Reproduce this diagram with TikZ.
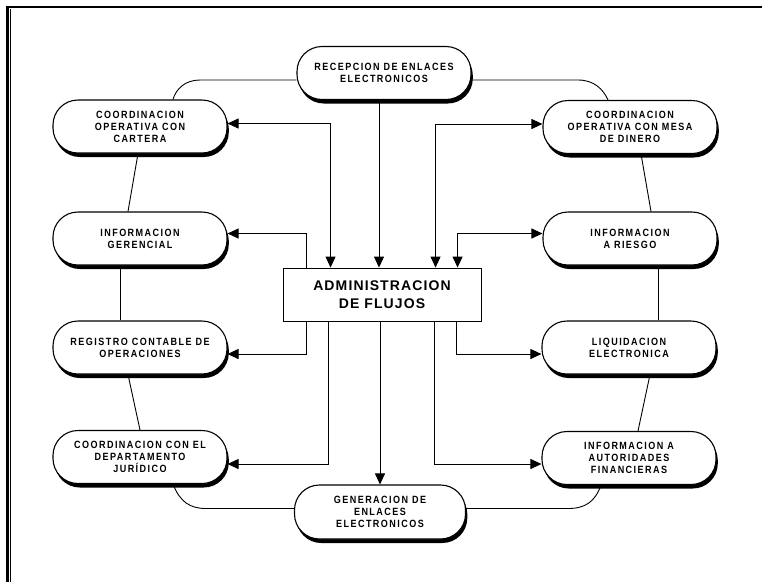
\documentclass[tikz,border=0pt]{standalone}
\usepackage{fontspec}
\setmainfont{Liberation Sans}
\newfontfamily\pillfont[LetterSpace=14,FakeStretch=0.86]{Liberation Sans}
\newfontfamily\corefont[LetterSpace=8]{Liberation Sans}
\usetikzlibrary{arrows.meta,shadows,calc}
\pgfdeclarelayer{back}
\pgfsetlayers{back,main}

\tikzset{
  pillbox/.style={draw, line width=1.1pt, fill=white, rounded corners=25pt,
    minimum width=174pt, minimum height=53pt, inner sep=0pt, align=center,
    font={\pillfont\bfseries\fontsize{10.5}{12}\selectfont},
    drop shadow={shadow xshift=1.8pt, shadow yshift=-4pt, fill=black, opacity=1}},
  corebox/.style={draw, line width=0.9pt, fill=white,
    minimum width=198pt, minimum height=53pt, inner sep=0pt, align=center,
    font={\corefont\bfseries\fontsize{14}{18}\selectfont}},
  ringline/.style={line width=0.9pt},
  arrowdown/.style={line width=0.9pt, -{Triangle[length=11pt,width=10pt]}},
  arrowback/.style={line width=0.9pt, {Triangle[length=11pt,width=10pt]}-},
  arrowboth/.style={line width=0.9pt, {Triangle[length=11pt,width=10pt]}-{Triangle[length=11pt,width=10pt]}}
}

\begin{document}
\begin{tikzpicture}[x=1pt,y=-1pt]
\useasboundingbox (0,0) rectangle (762,582);

% page frame: a left and a top rule, as filled strips
\fill[black] (6.4,6) rectangle (8.6,582);
\fill[black] (6,6) rectangle (762,8.2);
\fill[black] (10.2,9) rectangle (10.8,582);

% process boxes
\node[pillbox] (rec)  at (384,73)    {RECEPCION DE ENLACES\\ELECTRONICOS};
\node[pillbox] (cart) at (140,126.5) {COORDINACION\\OPERATIVA CON\\CARTERA};
\node[pillbox] (mesa) at (630,127)   {COORDINACION\\OPERATIVA CON MESA\\DE DINERO};
\node[pillbox] (ger)  at (140,238.5) {INFORMACION\\GERENCIAL};
\node[pillbox] (ries) at (630,238.5) {INFORMACION\\A RIESGO};
\node[corebox] (adm)  at (382,294.5) {ADMINISTRACION\\DE FLUJOS};
\node[pillbox] (reg)  at (140,347.5) {REGISTRO CONTABLE DE\\OPERACIONES};
\node[pillbox] (liq)  at (629,347.5) {LIQUIDACION\\ELECTRONICA};
\node[pillbox] (jur)  at (140,457)   {COORDINACION CON EL\\DEPARTAMENTO\\JURÍDICO};
\node[pillbox] (aut)  at (629,458)   {INFORMACION A\\AUTORIDADES\\FINANCIERAS};
\node[pillbox, minimum width=171pt, minimum height=54pt] (gen) at (380,512)
  {GENERACION DE\\ENLACES\\ELECTRONICOS};

\begin{pgfonlayer}{back}
  % outer ring joining the boxes
  \draw[ringline] ($(rec.west)+(0,7)$) -- (200,80)
    .. controls (185,80) and (176,89) .. ($(cart.north)+(33,0)$);
  \draw[ringline] ($(rec.east)+(0,7)$) -- (578,80)
    .. controls (594,80) and (603,89) .. ($(mesa.north)+(-22,0)$);
  \draw[ringline] ($(cart.south)+(-2,0)$) -- ($(ger.north)+(-12,0)$);
  \draw[ringline] ($(ger.south)+(-20,0)$) -- ($(reg.north)+(-20,0)$);
  \draw[ringline] ($(reg.south)+(-12,0)$) -- (jur.north);
  \draw[ringline] ($(jur.south)+(33,0)$)
    .. controls (180,502) and (190,508.5) .. (206,508.5) -- ($(gen.west)+(0,-3.5)$);
  \draw[ringline] ($(mesa.south)+(11,0)$) -- ($(ries.north)+(21,0)$);
  \draw[ringline] ($(ries.south)+(28,0)$) -- ($(liq.north)+(29,0)$);
  \draw[ringline] ($(liq.south)+(21,0)$) -- ($(aut.north)+(9,0)$);
  \draw[ringline] ($(aut.south)+(-28,0)$)
    .. controls (595,502) and (585,508.5) .. (568,508.5) -- ($(gen.east)+(0,-3.5)$);

  % flows into the central box
  \draw[arrowdown] ($(rec.south)+(-5,0)$) -- ($(adm.north)+(-3,0)$);
  \draw[arrowboth] ($(cart.east)+(0,-3)$) -| ($(adm.north west)+(48,0)$);
  \draw[arrowboth] ($(mesa.west)+(0,-3)$) -| ($(adm.north west)+(153,0)$);
  \draw[arrowback] ($(ger.east)+(0,-5)$) -| ($(adm.north west)+(24,0)$);
  \draw[arrowboth] ($(ries.west)+(0,-5)$) -| ($(adm.north west)+(175,0)$);

  % flows out of the central box
  \draw[arrowdown] ($(adm.south west)+(24,0)$) |- ($(reg.east)+(0,6.5)$);
  \draw[arrowdown] ($(adm.south west)+(46,0)$) |- ($(jur.east)+(0,7)$);
  \draw[arrowdown] ($(adm.south)+(-2,0)$) -- (gen.north);
  \draw[arrowdown] ($(adm.south west)+(152,0)$) |- ($(aut.west)+(0,6)$);
  \draw[arrowdown] ($(adm.south west)+(174,0)$) |- ($(liq.west)+(0,6.5)$);
\end{pgfonlayer}
\end{tikzpicture}
\end{document}
